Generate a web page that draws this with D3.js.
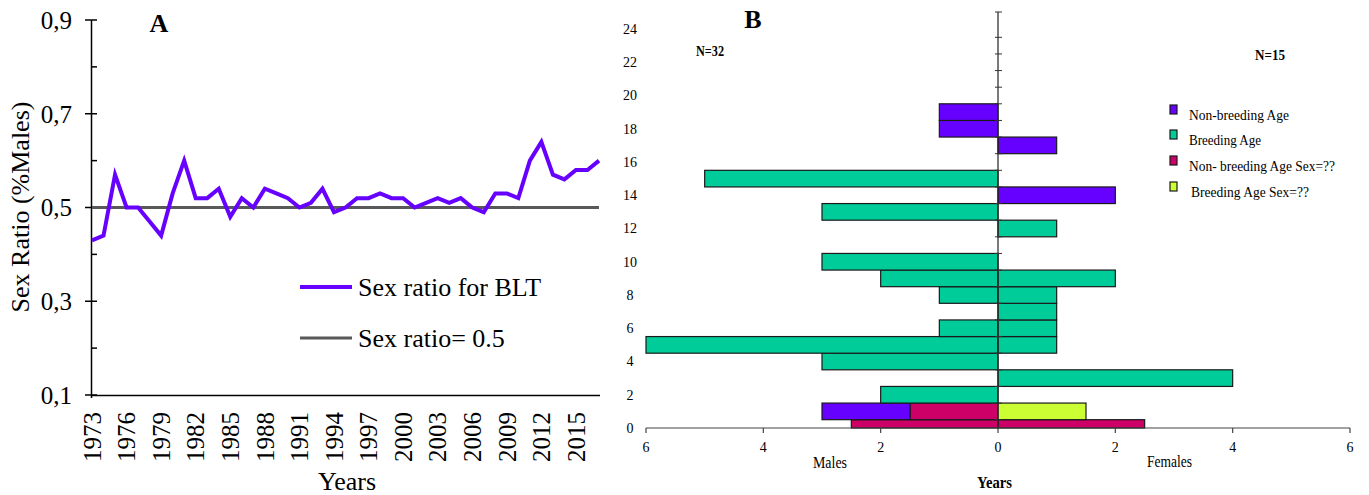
<!DOCTYPE html>
<html>
<head>
<meta charset="utf-8">
<script src="https://cdn.jsdelivr.net/npm/d3@7"></script>
<style>
  body { margin: 0; background: #fff; }
  svg { display: block; font-family: "Liberation Serif", "Times New Roman", serif; }
</style>
</head>
<body>
<svg id="chart" width="1369" height="495"></svg>
<script>
// panel A - sex ratio by year
var years = [1973, 1974, 1975, 1976, 1977, 1978, 1979, 1980, 1981, 1982, 1983, 1984, 1985, 1986, 1987,
             1988, 1989, 1990, 1991, 1992, 1993, 1994, 1995, 1996, 1997, 1998, 1999, 2000, 2001, 2002,
             2003, 2004, 2005, 2006, 2007, 2008, 2009, 2010, 2011, 2012, 2013, 2014, 2015, 2016, 2017];
var sexRatio = [0.43, 0.44, 0.57, 0.50, 0.50, 0.47, 0.44, 0.53, 0.60, 0.52, 0.52, 0.54, 0.48, 0.52, 0.50,
                0.54, 0.53, 0.52, 0.50, 0.51, 0.54, 0.49, 0.50, 0.52, 0.52, 0.53, 0.52, 0.52, 0.50, 0.51,
                0.52, 0.51, 0.52, 0.50, 0.49, 0.53, 0.53, 0.52, 0.60, 0.64, 0.57, 0.56, 0.58, 0.58, 0.60];
var refRatio = 0.5;
var yearTicks = [1973, 1976, 1979, 1982, 1985, 1988, 1991, 1994, 1997, 2000, 2003, 2006, 2009, 2012, 2015];
var ratioTicks = [0.1, 0.3, 0.5, 0.7, 0.9];
var ratioMinorTicks = [0.2, 0.4, 0.6, 0.8];

// panel B - age pyramid, one value per age 0..24
var ages = [0, 1, 2, 3, 4, 5, 6, 7, 8, 9, 10, 11, 12, 13, 14, 15, 16, 17, 18, 19, 20, 21, 22, 23, 24];
var maleNonBreeding        = [0, 1.5, 0, 0, 0, 0, 0, 0, 0, 0, 0, 0, 0, 0, 0, 0, 0, 0, 1, 1, 0, 0, 0, 0, 0];
var maleBreeding           = [0, 0, 2, 0, 3, 6, 1, 0, 1, 2, 3, 0, 0, 3, 0, 5, 0, 0, 0, 0, 0, 0, 0, 0, 0];
var maleNonBreedingUnk     = [2.5, 1.5, 0, 0, 0, 0, 0, 0, 0, 0, 0, 0, 0, 0, 0, 0, 0, 0, 0, 0, 0, 0, 0, 0, 0];
var maleBreedingUnk        = [0, 0, 0, 0, 0, 0, 0, 0, 0, 0, 0, 0, 0, 0, 0, 0, 0, 0, 0, 0, 0, 0, 0, 0, 0];
var femaleNonBreeding      = [0, 0, 0, 0, 0, 0, 0, 0, 0, 0, 0, 0, 0, 0, 2, 0, 0, 1, 0, 0, 0, 0, 0, 0, 0];
var femaleBreeding         = [0, 0, 0, 4, 0, 1, 1, 1, 1, 2, 0, 0, 1, 0, 0, 0, 0, 0, 0, 0, 0, 0, 0, 0, 0];
var femaleNonBreedingUnk   = [2.5, 0, 0, 0, 0, 0, 0, 0, 0, 0, 0, 0, 0, 0, 0, 0, 0, 0, 0, 0, 0, 0, 0, 0, 0];
var femaleBreedingUnk      = [0, 1.5, 0, 0, 0, 0, 0, 0, 0, 0, 0, 0, 0, 0, 0, 0, 0, 0, 0, 0, 0, 0, 0, 0, 0];
var ageTicks = [0, 2, 4, 6, 8, 10, 12, 14, 16, 18, 20, 22, 24];
var countTicks = [-6, -4, -2, 0, 2, 4, 6];
var legendNames = ['Non-breeding Age', 'Breeding Age', 'Non- breeding Age Sex=??', 'Breeding Age Sex=??'];

var purple = '#6600ff', teal = '#00cc99', crimson = '#cc0066', lime = '#ccff33';

var svg = d3.select('#chart');
var comma = function(v) { return d3.format('.1f')(v).replace('.', ','); };

// ---------- panel A ----------
var xA = d3.scaleLinear().domain([1973, 2017]).range([92, 599]);
var yA = d3.scaleLinear().domain([0.1, 0.9]).range([395, 20]);
var gA = svg.append('g');

gA.append('line').attr('x1', 91.5).attr('x2', 91.5).attr('y1', yA(0.9)).attr('y2', yA(0.1) + 3)
  .attr('stroke', '#000').attr('stroke-width', 1.5);
gA.append('line').attr('x1', 91).attr('x2', 600).attr('y1', yA(0.1) + 0.5).attr('y2', yA(0.1) + 0.5)
  .attr('stroke', '#000').attr('stroke-width', 1.5);

gA.selectAll('.maj').data(ratioTicks).enter().append('line')
  .attr('x1', 85).attr('x2', 97).attr('y1', function(d) { return yA(d); }).attr('y2', function(d) { return yA(d); })
  .attr('stroke', '#000').attr('stroke-width', 1.5);
gA.selectAll('.min').data(ratioMinorTicks).enter().append('line')
  .attr('x1', 91).attr('x2', 97).attr('y1', function(d) { return yA(d); }).attr('y2', function(d) { return yA(d); })
  .attr('stroke', '#000').attr('stroke-width', 1.5);
gA.selectAll('.ylab').data(ratioTicks).enter().append('text')
  .attr('x', 72).attr('y', function(d) { return yA(d); }).attr('dy', '0.35em')
  .attr('text-anchor', 'end').attr('font-size', 25).text(comma);

gA.selectAll('.xlab').data(yearTicks).enter().append('text')
  .attr('transform', function(d) { return 'translate(' + xA(d) + ',412) rotate(-90)'; })
  .attr('dy', '0.35em').attr('text-anchor', 'end').attr('font-size', 25)
  .text(function(d) { return d; });

gA.append('line').attr('x1', xA(1973)).attr('x2', xA(2017)).attr('y1', yA(refRatio)).attr('y2', yA(refRatio))
  .attr('stroke', '#595959').attr('stroke-width', 3);

var line = d3.line().x(function(d, i) { return xA(years[i]); }).y(function(d) { return yA(d); });
gA.append('path').datum(sexRatio).attr('d', line)
  .attr('fill', 'none').attr('stroke', purple).attr('stroke-width', 4);

gA.append('text').attr('x', 347).attr('y', 490).attr('text-anchor', 'middle').attr('font-size', 26).text('Years');
gA.append('text').attr('transform', 'translate(29,207) rotate(-90)').attr('text-anchor', 'middle')
  .attr('font-size', 26).text('Sex Ratio (%Males)');
gA.append('text').attr('x', 159).attr('y', 32).attr('text-anchor', 'middle').attr('font-size', 26)
  .attr('font-weight', 'bold').text('A');

// legend A
gA.append('line').attr('x1', 300).attr('x2', 352).attr('y1', 287).attr('y2', 287)
  .attr('stroke', purple).attr('stroke-width', 4);
gA.append('text').attr('x', 358).attr('y', 287).attr('dy', '0.35em').attr('font-size', 26).text('Sex ratio for BLT');
gA.append('line').attr('x1', 300).attr('x2', 352).attr('y1', 338).attr('y2', 338)
  .attr('stroke', '#595959').attr('stroke-width', 3);
gA.append('text').attr('x', 358).attr('y', 338).attr('dy', '0.35em').attr('font-size', 26).text('Sex ratio= 0.5');

// ---------- panel B ----------
var xB = d3.scaleLinear().domain([-6, 6]).range([646, 1350]);
var yB = d3.scaleLinear().domain([0, 24]).range([428, 29]);
var gB = svg.append('g');

// stack order from the centre axis outwards: crimson, lime, purple, teal
var maleSeries = [[maleNonBreedingUnk, crimson], [maleBreedingUnk, lime], [maleNonBreeding, purple], [maleBreeding, teal]];
var femaleSeries = [[femaleNonBreedingUnk, crimson], [femaleBreedingUnk, lime], [femaleNonBreeding, purple], [femaleBreeding, teal]];

function buildBars(series, sign) {
  var out = [];
  ages.forEach(function(a, i) {
    var acc = 0;
    series.forEach(function(s) {
      var v = s[0][i];
      if (v > 0) {
        out.push({age: a, x0: sign * acc, x1: sign * (acc + v), color: s[1]});
        acc += v;
      }
    });
  });
  return out;
}
var bars = buildBars(maleSeries, -1).concat(buildBars(femaleSeries, 1));

gB.selectAll('.bar').data(bars).enter().append('rect')
  .attr('x', function(d) { return xB(Math.min(d.x0, d.x1)); })
  .attr('width', function(d) { return Math.abs(xB(d.x1) - xB(d.x0)); })
  .attr('y', function(d) { return yB(d.age + 0.5); })
  .attr('height', function(d) { return yB(Math.max(0, d.age - 0.5)) - yB(d.age + 0.5); })
  .attr('fill', function(d) { return d.color; })
  .attr('stroke', '#1a1a1a').attr('stroke-width', 1.2);

// centre axis
gB.append('line').attr('x1', xB(0)).attr('x2', xB(0)).attr('y1', 12).attr('y2', yB(0))
  .attr('stroke', '#222').attr('stroke-width', 1.2);
gB.selectAll('.ctick').data(ages.slice(0, 24)).enter().append('line')
  .attr('x1', xB(0) - 3).attr('x2', xB(0) + 4)
  .attr('y1', function(d) { return yB(d + 0.5); }).attr('y2', function(d) { return yB(d + 0.5); })
  .attr('stroke', '#333').attr('stroke-width', 1);
gB.append('line').attr('x1', xB(0) - 3).attr('x2', xB(0) + 4).attr('y1', 12).attr('y2', 12)
  .attr('stroke', '#333').attr('stroke-width', 1);

// bottom axis
gB.append('line').attr('x1', xB(-6)).attr('x2', xB(6)).attr('y1', yB(0)).attr('y2', yB(0))
  .attr('stroke', '#444').attr('stroke-width', 1.2);
gB.selectAll('.btick').data(countTicks).enter().append('line')
  .attr('x1', function(d) { return xB(d); }).attr('x2', function(d) { return xB(d); })
  .attr('y1', yB(0)).attr('y2', yB(0) + 5).attr('stroke', '#444').attr('stroke-width', 1.2);
gB.selectAll('.blab').data(countTicks).enter().append('text')
  .attr('x', function(d) { return xB(d); }).attr('y', 452).attr('text-anchor', 'middle')
  .attr('font-size', 14).text(function(d) { return Math.abs(d); });

// age labels
gB.selectAll('.alab').data(ageTicks).enter().append('text')
  .attr('x', 630).attr('y', function(d) { return yB(d); }).attr('dy', '0.35em')
  .attr('text-anchor', 'middle').attr('font-size', 14).text(function(d) { return d; });

function squeezed(x, y, str, size, len, bold) {
  var t = gB.append('text').attr('x', x).attr('y', y).attr('font-size', size)
    .attr('textLength', len).attr('lengthAdjust', 'spacingAndGlyphs').text(str);
  if (bold) t.attr('font-weight', 'bold');
  return t;
}
squeezed(813, 468, 'Males', 16, 34, false);
squeezed(1147, 467, 'Females', 16, 45, false);
squeezed(977, 488, 'Years', 16, 35, true);
squeezed(696, 56, 'N=32', 15, 28, true);
squeezed(1255, 60, 'N=15', 15, 30, true);
gB.append('text').attr('x', 753).attr('y', 28).attr('text-anchor', 'middle').attr('font-size', 26)
  .attr('font-weight', 'bold').text('B');

// legend B
var legendColors = [purple, teal, crimson, lime];
var legendY = [120, 145, 171, 197];
var legendLen = [100, 72, 146, 118];
legendNames.forEach(function(n, i) {
  gB.append('rect').attr('x', 1170).attr('y', legendY[i] - 15).attr('width', 7).attr('height', 9)
    .attr('fill', legendColors[i]).attr('stroke', '#1a1a1a').attr('stroke-width', 1.2);
  squeezed(i == 3 ? 1191 : 1189, legendY[i], n, 15, legendLen[i], false);
});
</script>
</body>
</html>
